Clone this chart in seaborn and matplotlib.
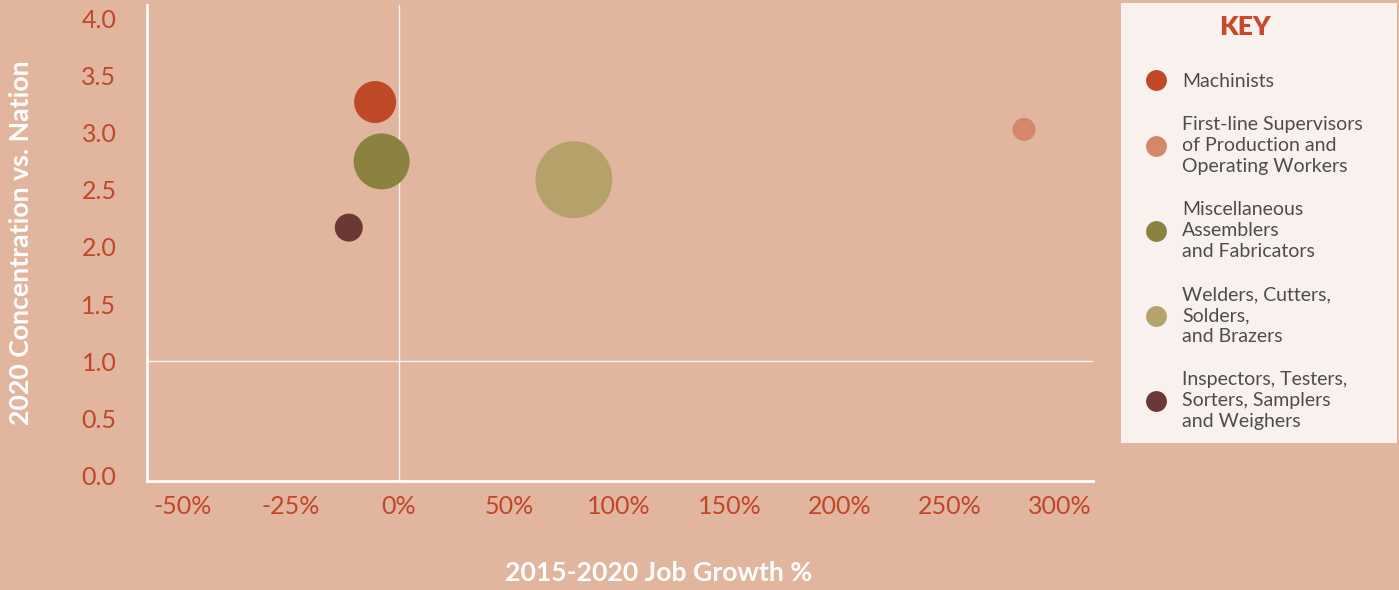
import numpy as np
import pandas as pd
import matplotlib
matplotlib.use("Agg")
import matplotlib.pyplot as plt
from matplotlib.lines import Line2D
import seaborn as sns

# --- data ---
occupations = [
    "Machinists",
    "First-line Supervisors of Production and Operating Workers",
    "Miscellaneous Assemblers and Fabricators",
    "Welders, Cutters, Solders, and Brazers",
    "Inspectors, Testers, Sorters, Samplers and Weighers",
]
key_labels = [
    "Machinists",
    "First-line Supervisors\nof Production and\nOperating Workers",
    "Miscellaneous\nAssemblers\nand Fabricators",
    "Welders, Cutters,\nSolders,\nand Brazers",
    "Inspectors, Testers,\nSorters, Samplers\nand Weighers",
]
job_growth = [-5.5, 283.7, -4.0, 79.4, -11.6]        # 2015-2020 job growth %
concentration = [3.27, 3.03, 2.75, 2.59, 2.17]       # 2020 concentration vs. nation
employment = [457, 137, 813, 1537, 203]              # bubble size (relative)
colors = ["#BF4827", "#D4876A", "#8C8240", "#B5A16A", "#6A3835"]
x_ticks = [-50, -25, 0, 50, 100, 150, 200, 250, 300]
y_ticks = [0.0, 0.5, 1.0, 1.5, 2.0, 2.5, 3.0, 3.5, 4.0]

BG = "#E2B59E"
KEY_BG = "#F9F1EE"
TICK_RED = "#C0472A"
POS_K = 0.51  # positive side of the axis is compressed (50% per tick vs 25%)


def fwd(x):
    x = np.asarray(x, dtype=float)
    return np.where(x < 0, x, x * POS_K)


def inv(y):
    y = np.asarray(y, dtype=float)
    return np.where(y < 0, y, y / POS_K)


df = pd.DataFrame({
    "occupation": occupations,
    "growth": job_growth,
    "concentration": concentration,
    "employment": employment,
})

sns.set_style("white", {"axes.facecolor": BG, "figure.facecolor": BG})
plt.rcParams["font.family"] = ["Lato", "DejaVu Sans"]

fig = plt.figure(figsize=(13.99, 5.90), dpi=100)
fig.patch.set_facecolor(BG)
ax = fig.add_axes([147 / 1399, 1 - 481 / 590, 946 / 1399, 476 / 590])
ax.set_facecolor(BG)
ax.set_xscale("function", functions=(fwd, inv))

ax.axvline(0, color="white", lw=1.0, alpha=0.9, zorder=1)
ax.axhline(1, color="white", lw=1.0, alpha=0.9, zorder=1)

sns.scatterplot(data=df, x="growth", y="concentration", hue="occupation",
                palette=colors, hue_order=occupations,
                size="employment", sizes=(274, 3074), size_norm=(137, 1537),
                linewidth=0, alpha=1, legend=False, ax=ax, zorder=3)

ax.set_xlim(-58.3, 315)
ax.set_ylim(-0.05, 4.12)
ax.set_xticks(x_ticks)
ax.set_xticklabels([f"{t}%" for t in x_ticks])
ax.set_yticks(y_ticks)
ax.set_yticklabels([f"{t:.1f}" for t in y_ticks])
ax.minorticks_off()
ax.tick_params(axis="both", length=0, labelsize=18, labelcolor=TICK_RED)
ax.tick_params(axis="y", pad=22)
ax.tick_params(axis="x", pad=10)

for side in ["top", "right"]:
    ax.spines[side].set_visible(False)
for side in ["left", "bottom"]:
    ax.spines[side].set_color("white")
    ax.spines[side].set_linewidth(2)

ax.set_xlabel("2015-2020 Job Growth %", color="white", fontsize=19.2, fontweight="bold")
ax.set_ylabel("2020 Concentration vs. Nation", color="white", fontsize=19.2, fontweight="bold")
ax.xaxis.set_label_coords(0.541, -0.168)
ax.yaxis.set_label_coords(-0.121, 0.5)

# --- key panel ---
lax = fig.add_axes([1121 / 1399, 1 - 443 / 590, 276 / 1399, 440 / 590])
lax.set_facecolor(KEY_BG)
lax.set_xticks([])
lax.set_yticks([])
for s in lax.spines.values():
    s.set_visible(False)

lax.text(0.449, 1 - 24 / 440, "KEY", transform=lax.transAxes, ha="center", va="center",
         fontsize=19, fontweight="heavy", color="#C84A2C")

handles = [Line2D([], [], marker="o", linestyle="", markersize=15,
                  markerfacecolor=c, markeredgewidth=0) for c in colors]
leg = lax.legend(handles, key_labels, loc="upper left",
                 bbox_to_anchor=(25.3 / 276, 1 - 70 / 440),
                 frameon=False, borderpad=0, borderaxespad=0,
                 handlelength=1.0, handletextpad=0.84, labelspacing=1.36,
                 fontsize=14, labelcolor="#4D4D4D")
for t in leg.get_texts():
    t.set_linespacing(1.27)

fig.savefig("out.png", dpi=100, facecolor=BG)
